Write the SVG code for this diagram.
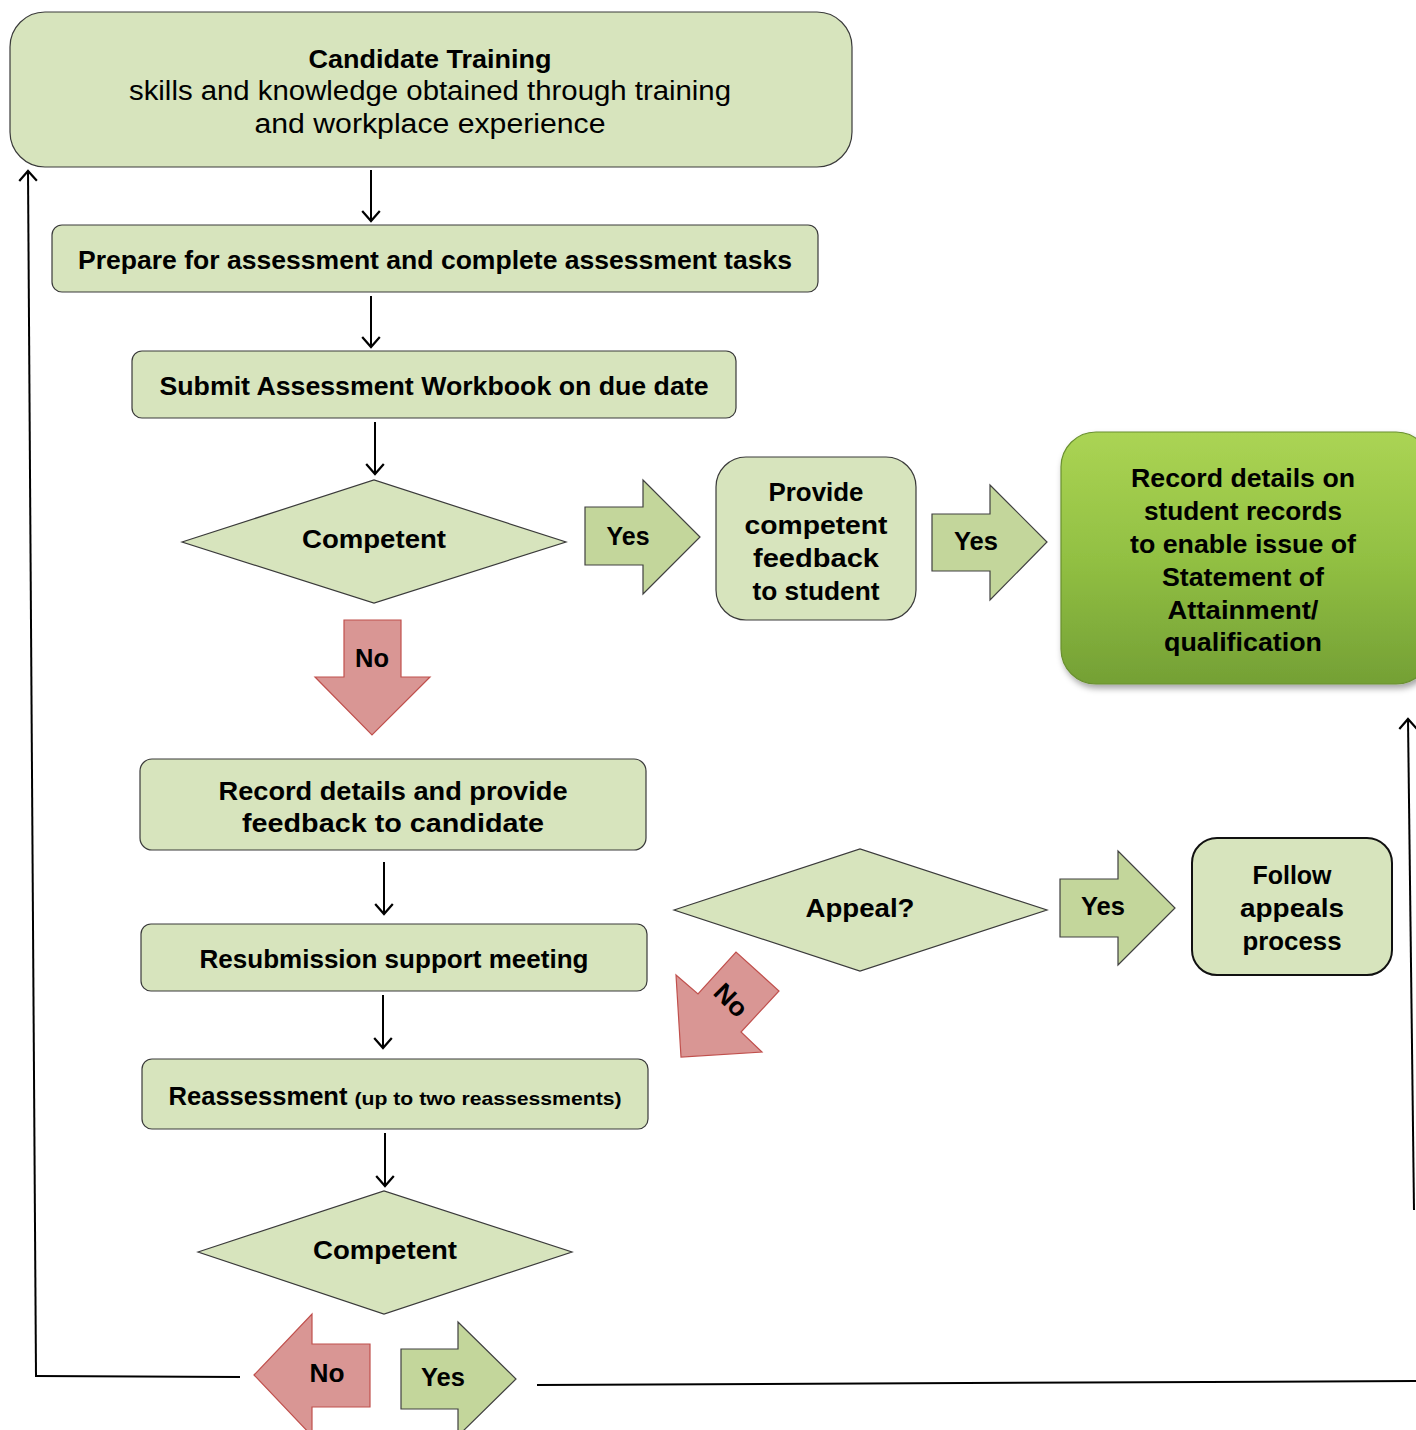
<svg xmlns="http://www.w3.org/2000/svg" width="1416" height="1430" viewBox="0 0 1416 1430">
<style>
.box{fill:#d7e4bd;stroke:#3a3a3a;stroke-width:1.2}
.garrow{fill:#c3d69b;stroke:#404040;stroke-width:1.2}
.rarrow{fill:#d99694;stroke:#c0504d;stroke-width:1.2}
.t{font-family:"Liberation Sans",Arial,sans-serif;font-weight:bold;font-size:26px;fill:#000;text-anchor:middle}
.r{font-family:"Liberation Sans",Arial,sans-serif;font-size:27px;fill:#000;text-anchor:middle}
.ln{stroke:#000;stroke-width:2;fill:none}
</style>
<defs>
<marker id="ah" viewBox="0 0 20 20" refX="10" refY="10" markerWidth="22" markerHeight="22" markerUnits="userSpaceOnUse" orient="auto">
<path d="M1,2 L10,10 L1,18" fill="none" stroke="#000" stroke-width="2"/>
</marker>
<linearGradient id="gg" x1="0" y1="0" x2="0" y2="1">
<stop offset="0" stop-color="#abd454"/>
<stop offset="0.5" stop-color="#92c043"/>
<stop offset="1" stop-color="#74a035"/>
</linearGradient>
<filter id="sh" x="-10%" y="-10%" width="130%" height="130%">
<feDropShadow dx="2" dy="4" stdDeviation="3" flood-color="#000" flood-opacity="0.35"/>
</filter>
</defs>

<g id="connectors">
<line class="ln" x1="371" y1="170" x2="371" y2="221" marker-end="url(#ah)"/>
<line class="ln" x1="371" y1="296" x2="371" y2="347" marker-end="url(#ah)"/>
<line class="ln" x1="375" y1="422" x2="375" y2="474" marker-end="url(#ah)"/>
<line class="ln" x1="384" y1="862" x2="384" y2="914" marker-end="url(#ah)"/>
<line class="ln" x1="383" y1="995" x2="383" y2="1048" marker-end="url(#ah)"/>
<line class="ln" x1="385" y1="1133" x2="385" y2="1186" marker-end="url(#ah)"/>
<line class="ln" x1="240" y1="1377" x2="35" y2="1376"/>
<line class="ln" x1="36" y1="1376" x2="28" y2="171" marker-end="url(#ah)"/>
<line class="ln" x1="537" y1="1385" x2="1416" y2="1381"/>
<line class="ln" x1="1414" y1="1210" x2="1408" y2="719" marker-end="url(#ah)"/>
</g>

<g id="candidate-training">
<rect class="box" x="10" y="12" width="842" height="155" rx="35"/>
<text class="t" x="430" y="68" textLength="243" lengthAdjust="spacingAndGlyphs">Candidate Training</text>
<text class="r" x="430" y="100" textLength="602" lengthAdjust="spacingAndGlyphs">skills and knowledge obtained through training</text>
<text class="r" x="430" y="133" textLength="351" lengthAdjust="spacingAndGlyphs">and workplace experience</text>
</g>

<g id="prepare">
<rect class="box" x="52" y="225" width="766" height="67" rx="10"/>
<text class="t" x="435" y="269" textLength="714" lengthAdjust="spacingAndGlyphs">Prepare for assessment and complete assessment tasks</text>
</g>

<g id="submit">
<rect class="box" x="132" y="351" width="604" height="67" rx="10"/>
<text class="t" x="434" y="395" textLength="549" lengthAdjust="spacingAndGlyphs">Submit Assessment Workbook on due date</text>
</g>

<g id="competent1">
<polygon class="box" points="182,542 374,480 566,542 374,603"/>
<text class="t" x="374" y="548" textLength="144" lengthAdjust="spacingAndGlyphs">Competent</text>
</g>

<g id="yes1">
<polygon class="garrow" points="585,507 643,507 643,480 700,537 643,594 643,565 585,565"/>
<text class="t" x="628" y="545" textLength="43" lengthAdjust="spacingAndGlyphs">Yes</text>
</g>

<g id="provide-feedback">
<rect class="box" x="716" y="457" width="200" height="163" rx="30"/>
<text class="t" x="816" y="501" textLength="95" lengthAdjust="spacingAndGlyphs">Provide</text>
<text class="t" x="816" y="534" textLength="143" lengthAdjust="spacingAndGlyphs">competent</text>
<text class="t" x="816" y="567" textLength="126" lengthAdjust="spacingAndGlyphs">feedback</text>
<text class="t" x="816" y="600" textLength="127" lengthAdjust="spacingAndGlyphs">to student</text>
</g>

<g id="yes2">
<polygon class="garrow" points="932,514 990,514 990,485 1047,542 990,600 990,571 932,571"/>
<text class="t" x="976" y="550" textLength="44" lengthAdjust="spacingAndGlyphs">Yes</text>
</g>

<g id="record-student">
<rect x="1061" y="432" width="370" height="252" rx="35" fill="url(#gg)" stroke="#6a9030" stroke-width="1.2" filter="url(#sh)"/>
<text class="t" x="1243" y="487" textLength="224" lengthAdjust="spacingAndGlyphs">Record details on</text>
<text class="t" x="1243" y="520" textLength="198" lengthAdjust="spacingAndGlyphs">student records</text>
<text class="t" x="1243" y="553" textLength="226" lengthAdjust="spacingAndGlyphs">to enable issue of</text>
<text class="t" x="1243" y="586" textLength="162" lengthAdjust="spacingAndGlyphs">Statement of</text>
<text class="t" x="1243" y="619" textLength="151" lengthAdjust="spacingAndGlyphs">Attainment/</text>
<text class="t" x="1243" y="651" textLength="158" lengthAdjust="spacingAndGlyphs">qualification</text>
</g>

<g id="no1">
<polygon class="rarrow" points="344,620 401,620 401,677 430,677 372,735 315,677 344,677"/>
<text class="t" x="372" y="667" textLength="34" lengthAdjust="spacingAndGlyphs">No</text>
</g>

<g id="record-feedback">
<rect class="box" x="140" y="759" width="506" height="91" rx="12"/>
<text class="t" x="393" y="800" textLength="349" lengthAdjust="spacingAndGlyphs">Record details and provide</text>
<text class="t" x="393" y="832" textLength="302" lengthAdjust="spacingAndGlyphs">feedback to candidate</text>
</g>

<g id="resubmission">
<rect class="box" x="141" y="924" width="506" height="67" rx="10"/>
<text class="t" x="394" y="968" textLength="389" lengthAdjust="spacingAndGlyphs">Resubmission support meeting</text>
</g>

<g id="reassessment">
<rect class="box" x="142" y="1059" width="506" height="70" rx="10"/>
<text class="t" x="258" y="1105" textLength="179" lengthAdjust="spacingAndGlyphs">Reassessment</text>
<text class="t" x="488" y="1105" font-size="19" style="font-size:19px" textLength="267" lengthAdjust="spacingAndGlyphs">(up to two reassessments)</text>
</g>

<g id="competent2">
<polygon class="box" points="198,1252 384,1191 572,1252 384,1314"/>
<text class="t" x="385" y="1259" textLength="144" lengthAdjust="spacingAndGlyphs">Competent</text>
</g>

<g id="appeal">
<polygon class="box" points="674,910 860,849 1047,910 860,971"/>
<text class="t" x="860" y="917" textLength="109" lengthAdjust="spacingAndGlyphs">Appeal?</text>
</g>

<g id="yes3">
<polygon class="garrow" points="1060,879 1118,879 1118,851 1175,908 1118,965 1118,937 1060,937"/>
<text class="t" x="1103" y="915" textLength="44" lengthAdjust="spacingAndGlyphs">Yes</text>
</g>

<g id="follow-appeals">
<rect class="box" x="1192" y="838" width="200" height="137" rx="25" style="stroke:#111;stroke-width:2"/>
<text class="t" x="1292" y="884" textLength="79" lengthAdjust="spacingAndGlyphs">Follow</text>
<text class="t" x="1292" y="917" textLength="104" lengthAdjust="spacingAndGlyphs">appeals</text>
<text class="t" x="1292" y="950" textLength="99" lengthAdjust="spacingAndGlyphs">process</text>
</g>

<g id="no2">
<polygon class="rarrow" points="676,975 698,994 736,952 779,991 741,1032 762,1052 681,1057"/>
<text class="t" transform="translate(731,1000) rotate(45)" x="0" y="9" textLength="36" lengthAdjust="spacingAndGlyphs">No</text>
</g>

<g id="no3">
<polygon class="rarrow" points="254,1375 312,1314 312,1344 370,1344 370,1407 312,1407 312,1436"/>
<text class="t" x="327" y="1382" textLength="35" lengthAdjust="spacingAndGlyphs">No</text>
</g>

<g id="yes4">
<polygon class="garrow" points="401,1349 458,1349 458,1322 516,1379 458,1436 458,1409 401,1409"/>
<text class="t" x="443" y="1386" textLength="44" lengthAdjust="spacingAndGlyphs">Yes</text>
</g>
</svg>
